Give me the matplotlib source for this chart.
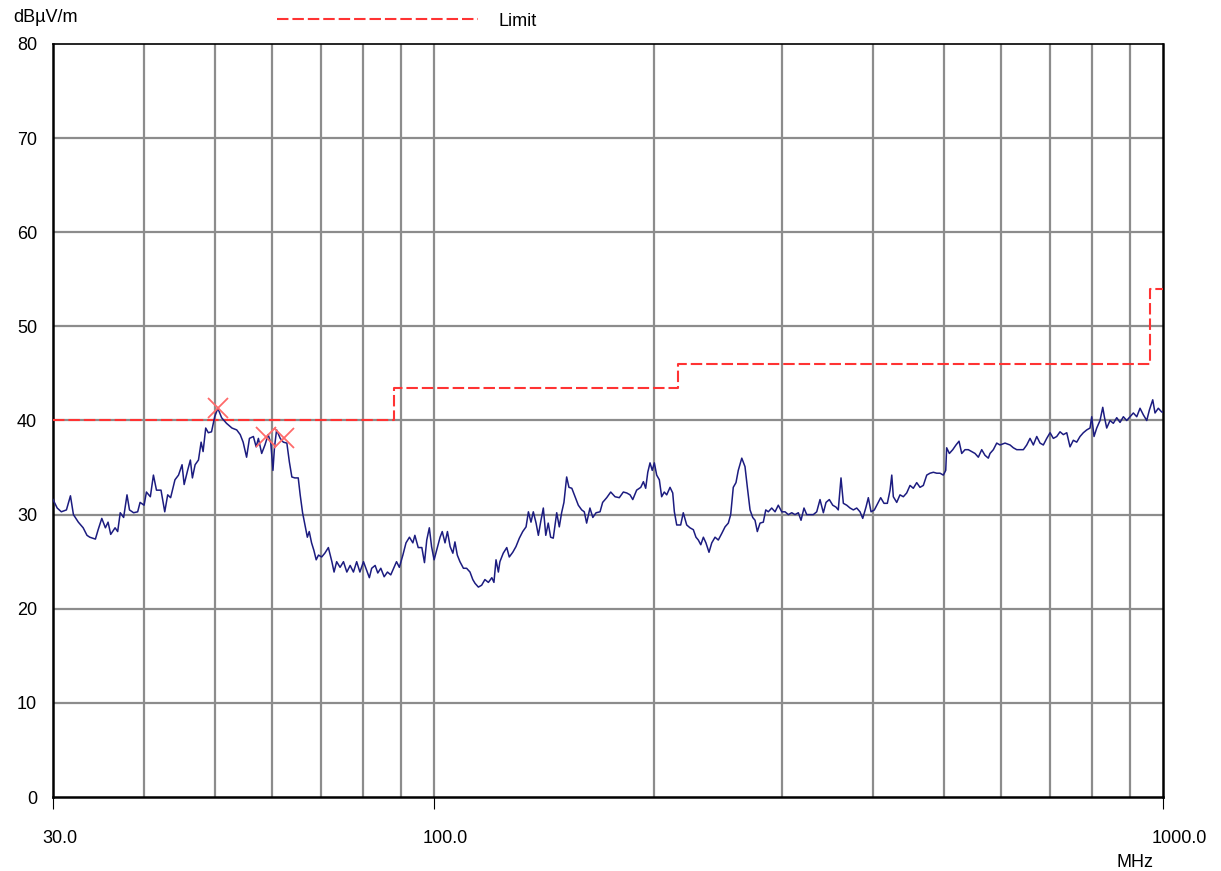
import matplotlib
matplotlib.use('Agg')
import matplotlib.pyplot as plt
from matplotlib.lines import Line2D
from matplotlib.transforms import ScaledTranslation

freq_mhz = [
    30.0, 30.4, 30.8, 31.3, 31.7, 32.0, 32.5, 33.0, 33.4, 33.7, 34.3, 34.6, 35.0, 35.4, 35.7,
    36.0, 36.5, 36.8, 37.1, 37.5, 37.9, 38.2, 38.7, 39.2, 39.5, 40.0, 40.3, 40.8, 41.2, 41.6,
    42.2, 42.7, 43.1, 43.5, 44.1, 44.6, 45.1, 45.4, 45.9, 46.3, 46.6, 47.0, 47.5, 47.9, 48.2,
    48.6, 49.0, 49.5, 50.0, 50.5, 51.1, 51.9, 52.8, 53.6, 54.2, 54.7, 55.3, 55.8, 56.5, 57.0,
    57.4, 58.0, 58.6, 59.2, 59.7, 60.1, 60.4, 60.8, 61.5, 62.1, 62.8, 63.3, 63.8, 64.4, 65.1,
    65.5, 66.0, 66.5, 67.0, 67.4, 67.9, 68.4, 68.9, 69.4, 70.1, 70.8, 71.6, 72.4, 72.9, 73.5,
    74.3, 75.1, 75.9, 76.7, 77.5, 78.3, 79.1, 80.0, 80.8, 81.5, 82.1, 83.0, 83.7, 84.5, 85.4,
    86.3, 87.2, 88.1, 88.8, 89.6, 90.6, 91.5, 92.5, 93.5, 94.1, 95.1, 96.2, 97.0, 97.7, 98.5,
    99.2, 100.0, 100.8, 101.9, 102.6, 103.5, 104.3, 105.2, 106.1, 106.8, 107.6, 108.5, 109.7, 110.8, 112.0,
    113.0, 113.8, 115.0, 116.2, 117.4, 118.7, 120.0, 120.8, 121.6, 122.5, 123.1, 124.4, 125.8, 126.8, 128.2,
    129.5, 130.9, 132.3, 133.7, 134.7, 135.8, 136.8, 138.0, 139.0, 140.0, 141.2, 142.3, 143.4, 144.5, 145.7,
    147.3, 148.5, 149.6, 150.7, 152.0, 153.1, 154.5, 156.1, 157.7, 159.4, 160.7, 161.9, 163.6, 165.1, 166.8,
    168.9, 170.3, 172.5, 174.7, 177.1, 179.5, 181.8, 183.8, 185.7, 187.3, 189.6, 192.1, 193.7, 195.1, 196.4,
    197.8, 199.2, 200.5, 202.0, 203.7, 205.2, 206.9, 208.5, 210.7, 212.5, 213.6, 215.2, 217.9, 219.7, 222.1,
    224.4, 226.8, 228.7, 230.4, 232.2, 234.1, 236.0, 238.3, 240.4, 242.9, 245.4, 248.1, 250.7, 253.3, 255.2,
    257.3, 259.5, 261.4, 264.3, 267.0, 269.0, 271.3, 273.6, 275.6, 277.6, 280.0, 282.9, 285.1, 287.4, 290.5,
    293.6, 296.6, 299.9, 303.0, 306.2, 309.5, 312.7, 316.0, 318.7, 321.7, 324.5, 327.2, 331.3, 334.9, 338.4,
    342.0, 344.9, 348.5, 352.3, 355.9, 358.5, 361.6, 364.3, 368.2, 372.1, 376.0, 380.0, 384.0, 387.3, 391.3,
    394.2, 397.6, 401.8, 406.1, 409.9, 414.2, 418.6, 422.2, 424.5, 426.6, 431.2, 435.7, 440.3, 445.0, 449.7,
    454.4, 459.3, 464.1, 469.0, 474.1, 479.0, 484.1, 489.3, 494.4, 499.6, 503.4, 504.9, 509.2, 514.7, 520.0,
    525.0, 529.5, 535.0, 540.6, 546.5, 552.2, 558.0, 564.0, 569.9, 575.9, 579.0, 585.1, 591.4, 597.6, 607.1,
    616.8, 623.3, 630.0, 636.6, 643.3, 650.2, 657.0, 663.9, 671.1, 678.1, 685.2, 692.6, 699.9, 707.2, 714.8,
    722.3, 729.9, 737.8, 745.5, 753.3, 761.4, 769.4, 777.5, 785.9, 794.1, 798.4, 804.2, 811.1, 819.6, 826.7,
    830.9, 837.1, 845.9, 854.8, 864.0, 873.1, 882.3, 891.7, 901.1, 910.6, 920.4, 930.0, 939.8, 949.9, 957.8,
    968.1, 975.1, 985.3, 996.0, 1000.0,
]
level_dbuv = [
    31.6, 30.7, 30.3, 30.5, 32.0, 30.0, 29.2, 28.6, 27.8, 27.6, 27.4, 28.4, 29.6, 28.6, 29.2,
    27.9, 28.6, 28.2, 30.2, 29.7, 32.1, 30.5, 30.2, 30.3, 31.3, 31.0, 32.4, 31.9, 34.2, 32.6,
    32.6, 30.3, 32.1, 31.8, 33.7, 34.2, 35.3, 33.2, 34.7, 35.8, 33.9, 35.3, 35.8, 37.7, 36.7,
    39.2, 38.7, 38.8, 40.4, 41.3, 40.3, 39.7, 39.2, 39.0, 38.5, 37.7, 36.1, 38.1, 38.3, 37.2,
    38.1, 36.5, 37.4, 38.5, 37.6, 34.7, 37.2, 39.0, 38.1, 37.7, 37.6, 35.6, 34.0, 33.9, 33.9,
    32.1, 30.2, 28.9, 27.6, 28.2, 27.0, 26.2, 25.2, 25.7, 25.5, 25.9, 26.5, 25.0, 23.9, 25.0,
    24.4, 25.0, 23.9, 24.6, 23.9, 25.0, 23.9, 25.0, 24.1, 23.3, 24.3, 24.6, 23.8, 24.3, 23.4,
    23.9, 23.6, 24.4, 25.0, 24.4, 25.7, 27.0, 27.6, 27.0, 27.8, 26.5, 26.5, 24.9, 27.3, 28.6,
    26.6, 25.2, 26.2, 27.6, 28.2, 27.0, 28.2, 26.6, 25.9, 27.1, 25.7, 25.0, 24.3, 24.3, 23.9,
    23.1, 22.7, 22.3, 22.5, 23.1, 22.8, 23.3, 22.8, 25.2, 23.9, 25.0, 25.9, 26.5, 25.5, 26.0,
    26.6, 27.5, 28.2, 28.7, 30.3, 29.2, 30.3, 29.1, 27.8, 29.2, 30.7, 27.8, 29.1, 27.6, 27.5,
    30.2, 28.7, 30.2, 31.3, 34.0, 32.9, 32.8, 31.9, 31.0, 30.5, 30.3, 29.1, 30.7, 29.7, 30.2,
    30.3, 31.3, 31.8, 32.4, 31.9, 31.8, 32.4, 32.3, 32.1, 31.6, 32.6, 32.9, 33.5, 32.8, 34.5,
    35.5, 34.7, 35.5, 34.2, 33.7, 31.9, 32.4, 32.1, 32.9, 32.3, 30.3, 28.9, 28.9, 30.2, 28.9,
    28.6, 28.4, 27.6, 27.3, 26.8, 27.6, 27.0, 26.0, 27.0, 27.6, 27.3, 28.0, 28.7, 29.1, 30.0,
    32.9, 33.4, 34.7, 36.0, 35.1, 32.9, 30.5, 29.7, 29.4, 28.2, 29.1, 29.2, 30.5, 30.3, 30.7,
    30.3, 31.0, 30.3, 30.3, 30.0, 30.2, 30.0, 30.2, 29.4, 30.7, 30.0, 30.0, 30.0, 30.3, 31.6,
    30.2, 31.3, 31.6, 31.0, 30.8, 30.5, 33.9, 31.2, 31.0, 30.7, 30.5, 30.7, 30.3, 29.6, 30.8,
    31.8, 30.3, 30.5, 31.2, 31.8, 31.2, 31.2, 32.6, 34.2, 31.9, 31.3, 32.1, 31.9, 32.3, 33.1,
    32.8, 33.4, 32.9, 33.1, 34.2, 34.4, 34.5, 34.4, 34.4, 34.2, 34.7, 37.1, 36.5, 36.9, 37.4,
    37.8, 36.5, 36.9, 36.9, 36.7, 36.5, 36.1, 36.9, 36.3, 36.0, 36.5, 36.9, 37.6, 37.4, 37.6,
    37.4, 37.1, 36.9, 36.9, 36.9, 37.4, 38.1, 37.4, 38.3, 37.6, 37.4, 38.1, 38.7, 38.1, 38.3,
    38.8, 38.5, 38.7, 37.2, 37.9, 37.7, 38.3, 38.7, 39.0, 39.2, 40.4, 38.3, 39.2, 40.0, 41.4,
    40.4, 39.2, 40.0, 39.7, 40.3, 39.8, 40.4, 40.0, 40.4, 40.8, 40.4, 41.3, 40.6, 40.0, 41.1,
    42.2, 40.8, 41.3, 40.9, 40.9,
]

# limit line corners
limit_freq = [30, 88, 88, 216, 216, 960, 960, 1000]
limit_level = [40, 40, 43.5, 43.5, 46, 46, 54, 54]

# peak markers
peak_freq = [50.6, 58.8, 62.3]
peak_level = [41.3, 38.3, 38.1]

grid_freq = [40, 50, 60, 70, 80, 90, 100, 200, 300, 400, 500, 600, 700, 800, 900]
x_ticks = [30, 100, 1000]
x_labels = ['30.0', '100.0', '1000.0']
y_ticks = [0, 10, 20, 30, 40, 50, 60, 70, 80]
y_grid = [10, 20, 30, 40, 50, 60, 70]

plt.rcParams['font.family'] = ['Liberation Sans', 'DejaVu Sans']

W, H = 1221, 871
LIMIT_DASH = (5.5, 1.9)
fig = plt.figure(figsize=(W / 100, H / 100), dpi=100)
ax = fig.add_axes([53 / W, 1 - 797 / H, (1163 - 53) / W, (797 - 44) / H])

ax.set_xscale('log')
ax.set_xlim(30, 1000)
ax.set_ylim(0, 80)

for f in grid_freq:
    ax.axvline(f, color='#8c8c8c', lw=1.6, zorder=1)
for lv in y_grid:
    ax.axhline(lv, color='#8c8c8c', lw=1.6, zorder=1)

ax.plot(limit_freq, limit_level, color='#ff3333', lw=1.5,
        dashes=LIMIT_DASH, zorder=3)
ax.plot(freq_mhz, level_dbuv, color='#1c1c80', lw=1.1, zorder=4)
ax.plot(peak_freq, peak_level, ls='none', marker='x', ms=15, mew=1.3,
        color='#ff6a6a', zorder=5)

for side in ['left', 'right', 'bottom']:
    ax.spines[side].set_linewidth(1.8)
ax.spines['top'].set_linewidth(1.2)

ax.minorticks_off()
ax.set_xticks(x_ticks)
ax.set_xticklabels(x_labels)
ax.tick_params(axis='x', length=8.5, width=0.8, pad=15.5, labelsize=13)
offset = ScaledTranslation(-0.11, 0, fig.dpi_scale_trans)
for lab in ax.get_xticklabels():
    lab.set_horizontalalignment('left')
    lab.set_transform(lab.get_transform() + offset)

ax.set_yticks(y_ticks)
ax.tick_params(axis='y', length=0, pad=11.5, labelsize=13)

fig.text(13 / W, 1 - 18 / H, 'dBµV/m', fontsize=13, ha='left', va='center')
fig.text(1135 / W, 1 - 862 / H, 'MHz', fontsize=13, ha='center', va='center')
fig.add_artist(Line2D([277 / W, 478 / W], [1 - 19 / H, 1 - 19 / H],
                      color='#ff3333', lw=1.5, dashes=LIMIT_DASH))
fig.text(498 / W, 1 - 21 / H, 'Limit', fontsize=13, ha='left', va='center')

fig.savefig('out.png', dpi=100)
